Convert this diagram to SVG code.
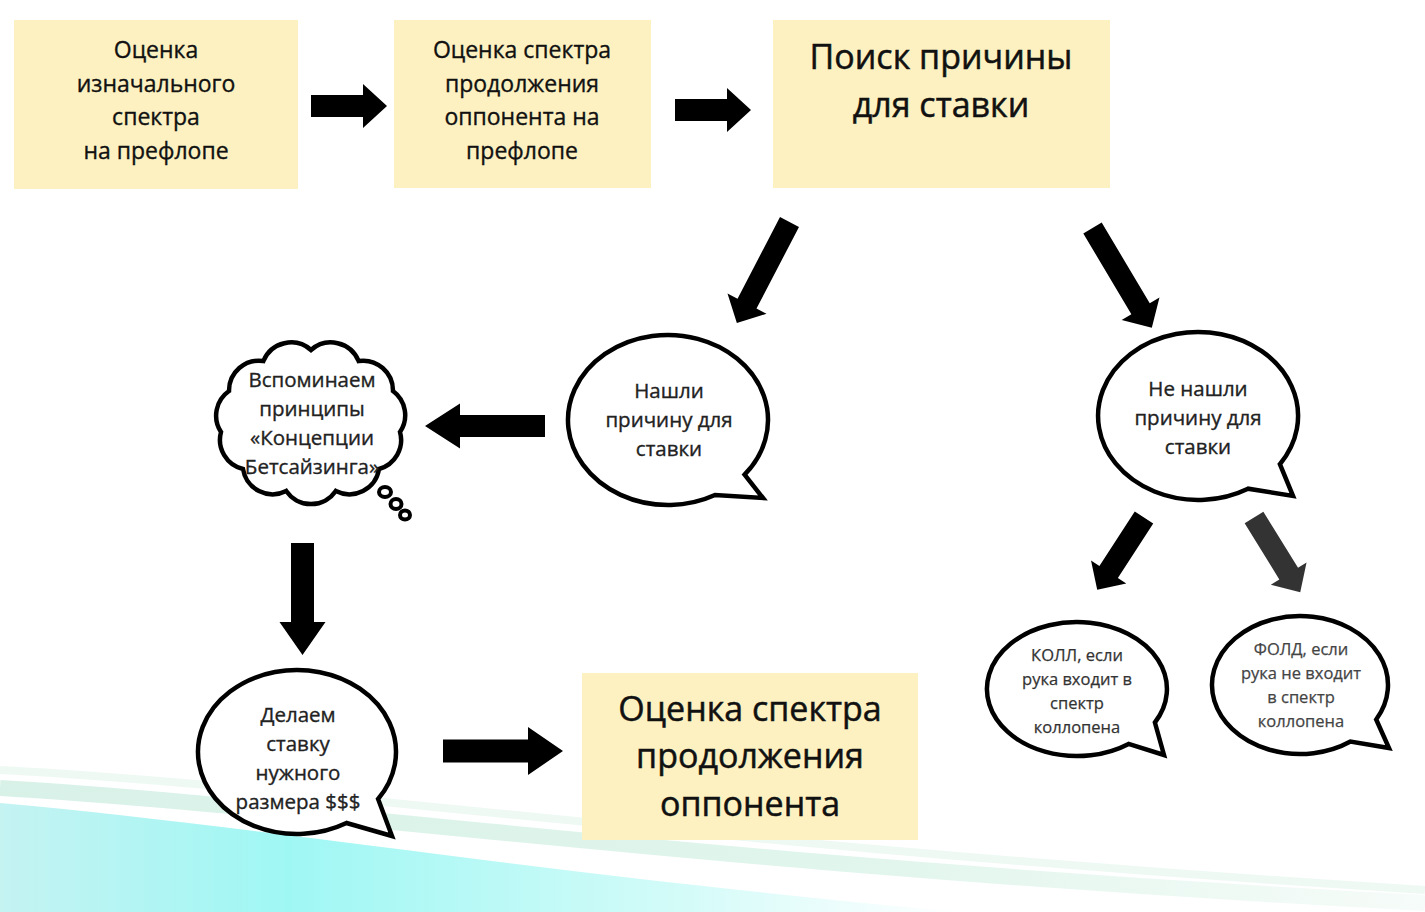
<svg xmlns="http://www.w3.org/2000/svg" width="1425" height="912" viewBox="0 0 1425 912">
<defs>
<linearGradient id="cyan" x1="0" y1="0" x2="1" y2="0">
<stop offset="0" stop-color="#c4f3f2"/>
<stop offset="0.3" stop-color="#9ff7f4"/>
<stop offset="0.7" stop-color="#d2fbf8"/>
<stop offset="1" stop-color="#ffffff"/>
</linearGradient>
<linearGradient id="green" x1="0" y1="0" x2="1" y2="0">
<stop offset="0" stop-color="#cfeee2"/>
<stop offset="0.6" stop-color="#d9f3e8"/>
<stop offset="1" stop-color="#f4fbf7"/>
</linearGradient>
<polygon id="harrow" points="0,-11 52,-11 52,-22 76,0 52,22 52,11 0,11"/>
</defs>
<style>
.box{fill:#fdf1c1}
.t{font-family:"Open Sans","Noto Sans",sans-serif;fill:#111;stroke:#111;stroke-width:0.35;text-anchor:middle}
.bt{font-size:23px}
.big{font-size:34px;stroke-width:0.5}
.bub{fill:#fff;stroke:#000;stroke-width:4.5;stroke-linejoin:miter}
.bs{font-size:20.5px;fill:#222;stroke:#222}
.sm{font-size:16.5px;fill:#333;stroke:#333;stroke-width:0.25}
.arr{fill:#000}
</style>
<rect width="1425" height="912" fill="#fff"/>
<g id="background">
<path d="M0,803 C250,825 550,875 960,912 L0,912 Z" fill="url(#cyan)"/>
<path d="M0,788 C300,805 700,865 1425,903" fill="none" stroke="url(#green)" stroke-width="16" opacity="0.8"/>
<path d="M0,770 C300,785 700,845 1425,890" fill="none" stroke="#eaf7f0" stroke-width="8" opacity="0.8"/>
</g>
<g id="node-initial-range">
<rect class="box" x="14" y="20" width="284" height="169"/>
<text class="t bt" x="156" y="58">Оценка</text>
<text class="t bt" x="156" y="92">изначального</text>
<text class="t bt" x="156" y="125">спектра</text>
<text class="t bt" x="156" y="159">на префлопе</text>
</g>
<g id="node-opponent-preflop">
<rect class="box" x="394" y="20" width="257" height="168"/>
<text class="t bt" x="522" y="58">Оценка спектра</text>
<text class="t bt" x="522" y="92">продолжения</text>
<text class="t bt" x="522" y="125">оппонента на</text>
<text class="t bt" x="522" y="159">префлопе</text>
</g>
<g id="node-search-reason">
<rect class="box" x="773" y="20" width="337" height="168"/>
<text class="t big" x="941" y="69">Поиск причины</text>
<text class="t big" x="941" y="117">для ставки</text>
</g>
<g id="node-found">
<path class="bub" d="M744.6,474.6 L763,498 L715,495 A100 85 0 1 1 744.6,474.6 Z"/>
<text class="t bs" x="669" y="398">Нашли</text>
<text class="t bs" x="669" y="427">причину для</text>
<text class="t bs" x="669" y="456">ставки</text>
</g>
<g id="node-not-found">
<path class="bub" d="M1279.9,464.2 L1293,496 L1248,488.7 A100 84 0 1 1 1279.9,464.2 Z"/>
<text class="t bs" x="1198" y="396">Не нашли</text>
<text class="t bs" x="1198" y="425">причину для</text>
<text class="t bs" x="1198" y="454">ставки</text>
</g>
<g id="node-recall">
<path class="bub" stroke-width="3" d="M311,350 A30 30 0 0 1 358.6,361 A30 30 0 0 1 393,391 A30 30 0 0 1 400,432 A30 30 0 0 1 379,469 A30 30 0 0 1 335.8,491 A30 30 0 0 1 286.2,491 A30 30 0 0 1 243,469 A30 30 0 0 1 221,432 A30 30 0 0 1 229,391 A30 30 0 0 1 263.4,361 A30 30 0 0 1 311,350 Z"/>
<ellipse cx="385" cy="492" rx="6" ry="5" fill="#fff" stroke="#000" stroke-width="4"/>
<ellipse cx="396" cy="504" rx="5.5" ry="5" fill="#fff" stroke="#000" stroke-width="4"/>
<ellipse cx="405" cy="515" rx="5" ry="4.5" fill="#fff" stroke="#000" stroke-width="4"/>
<text class="t bs" x="312" y="387">Вспоминаем</text>
<text class="t bs" x="312" y="416">принципы</text>
<text class="t bs" x="312" y="445">«Концепции</text>
<text class="t bs" x="312" y="474">Бетсайзинга»</text>
</g>
<g id="node-bet">
<path class="bub" d="M378.1,799 L392,836 L346.5,823 A99 82 0 1 1 378.1,799 Z"/>
<text class="t bs" x="298" y="722">Делаем</text>
<text class="t bs" x="298" y="751">ставку</text>
<text class="t bs" x="298" y="780">нужного</text>
<text class="t bs" x="298" y="809">размера $$$</text>
</g>
<g id="node-opponent-continue">
<rect class="box" x="582" y="673" width="336" height="167"/>
<text class="t big" x="750" y="721">Оценка спектра</text>
<text class="t big" x="750" y="768">продолжения</text>
<text class="t big" x="750" y="816">оппонента</text>
</g>
<g id="node-call">
<path class="bub" stroke-width="4" d="M1154.9,722.5 L1164,755 L1128.6,743.9 A90 67 0 1 1 1154.9,722.5 Z"/>
<text class="t sm" x="1077" y="661">КОЛЛ, если</text>
<text class="t sm" x="1077" y="685">рука входит в</text>
<text class="t sm" x="1077" y="709">спектр</text>
<text class="t sm" x="1077" y="733">коллопена</text>
</g>
<g id="node-fold">
<path class="bub" stroke="#333" stroke-width="3.5" d="M1376.2,719.5 L1389,748 L1350.5,741.5 A88 69 0 1 1 1376.2,719.5 Z"/>
<text class="t sm" x="1301" y="655" style="fill:#444;stroke:#444">ФОЛД, если</text>
<text class="t sm" x="1301" y="679" style="fill:#444;stroke:#444">рука не входит</text>
<text class="t sm" x="1301" y="703" style="fill:#444;stroke:#444">в спектр</text>
<text class="t sm" x="1301" y="727" style="fill:#444;stroke:#444">коллопена</text>
</g>
<g id="connectors">
<use href="#harrow" class="arr" transform="translate(311,106)"/>
<use href="#harrow" class="arr" transform="translate(675,110)"/>
<polygon class="arr" points="0,-10.7 92,-10.7 92,-22 114,0 92,22 92,10.7 0,10.7" transform="translate(789.5,222) rotate(117.5)"/>
<polygon class="arr" points="0,-10.7 94,-10.7 94,-22 116,0 94,22 94,10.7 0,10.7" transform="translate(1092.5,228) rotate(59.25)"/>
<polygon class="arr" points="0,-11 85,-11 85,-22.5 120,0 85,22.5 85,11 0,11" transform="translate(545,426) rotate(180)"/>
<polygon class="arr" points="0,-11.5 79,-11.5 79,-23 112,0 79,23 79,11.5 0,11.5" transform="translate(302.5,543) rotate(90)"/>
<polygon class="arr" points="0,-11.5 85,-11.5 85,-24 120,0 85,24 85,11.5 0,11.5" transform="translate(443,751)"/>
<polygon class="arr" points="0,-11 65,-11 65,-21 86,0 65,21 65,11 0,11" transform="translate(1144,517.5) rotate(122.95)"/>
<polygon fill="#333" points="0,-11 66,-11 66,-21 88,0 66,21 66,11 0,11" transform="translate(1254,517.5) rotate(58.3)"/>
</g>
</svg>
